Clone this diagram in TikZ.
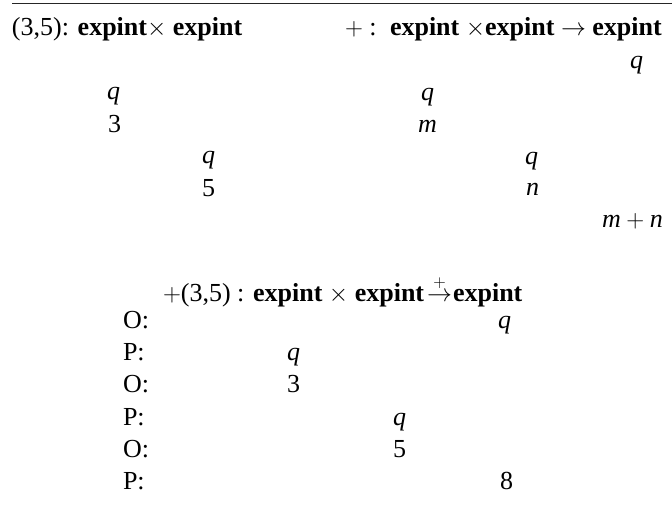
\documentclass[tikz,border=0pt]{standalone}
\usepackage{fontspec}
\setmainfont{Liberation Serif}
\newcommand\expt{\textbf{expint}}
\newcommand\plusarrow{$\mathrel{\mathop{\to}\limits^{\raisebox{3pt}{$\scriptstyle+$}}}$}
\begin{document}
\begin{tikzpicture}[x=1pt,y=-1pt,
  txt/.style={inner sep=0pt,outer sep=0pt,anchor=base west,font=\fontsize{26}{30}\selectfont},
  mv/.style={txt,font=\fontsize{26}{30}\selectfont\itshape},
  rulel/.style={line width=1.2pt,black!85}]
\useasboundingbox (0,0) rectangle (672,518);
\coordinate (rl) at (12,3.5);
\coordinate (rr) at (672,3.5);
\draw[rulel] (rl) -- (rr);
% top left
\node[txt] (h1) at (12,36) {(3,5): \expt$\times$ \expt};
\node[mv] (q1) at (107,100) {q};
\node[txt] (a3) at (108,133) {3};
\node[mv] (q2) at (202,164) {q};
\node[txt] (a5) at (202,197) {5};
% top right
\node[txt] (h2a) at (345,36) {$+$ :};
\node[txt] (h2b) at (390,36) {\expt\ $\times$\expt\ $\to$ \expt};
\node[mv] (qr) at (630,69) {q};
\node[mv] (qm) at (421,101) {q};
\node[mv] (m) at (418,133) {m};
\node[mv] (qn) at (525,165) {q};
\node[mv] (n) at (526,196) {n};
\node[txt] (mn) at (602,228) {\textit{m}${}+{}$\textit{n}};
% bottom
\node[txt] (h3) at (163,302) {$+$(3,5) : \expt\ $\times$ \expt\hspace{3pt}\plusarrow\hspace{1pt}\expt};
\node[txt] (l1) at (123,329) {O:};
\node[txt] (l2) at (123,361) {P:};
\node[txt] (l3) at (123,393) {O:};
\node[txt] (l4) at (123,425) {P:};
\node[txt] (l5) at (123,457) {O:};
\node[txt] (l6) at (123,489) {P:};
\node[mv] (b1) at (498,329) {q};
\node[mv] (b2) at (287,361) {q};
\node[txt] (b3) at (287,393) {3};
\node[mv] (b4) at (393,425) {q};
\node[txt] (b5) at (393,457) {5};
\node[txt] (b6) at (500,489) {8};
\end{tikzpicture}
\end{document}
